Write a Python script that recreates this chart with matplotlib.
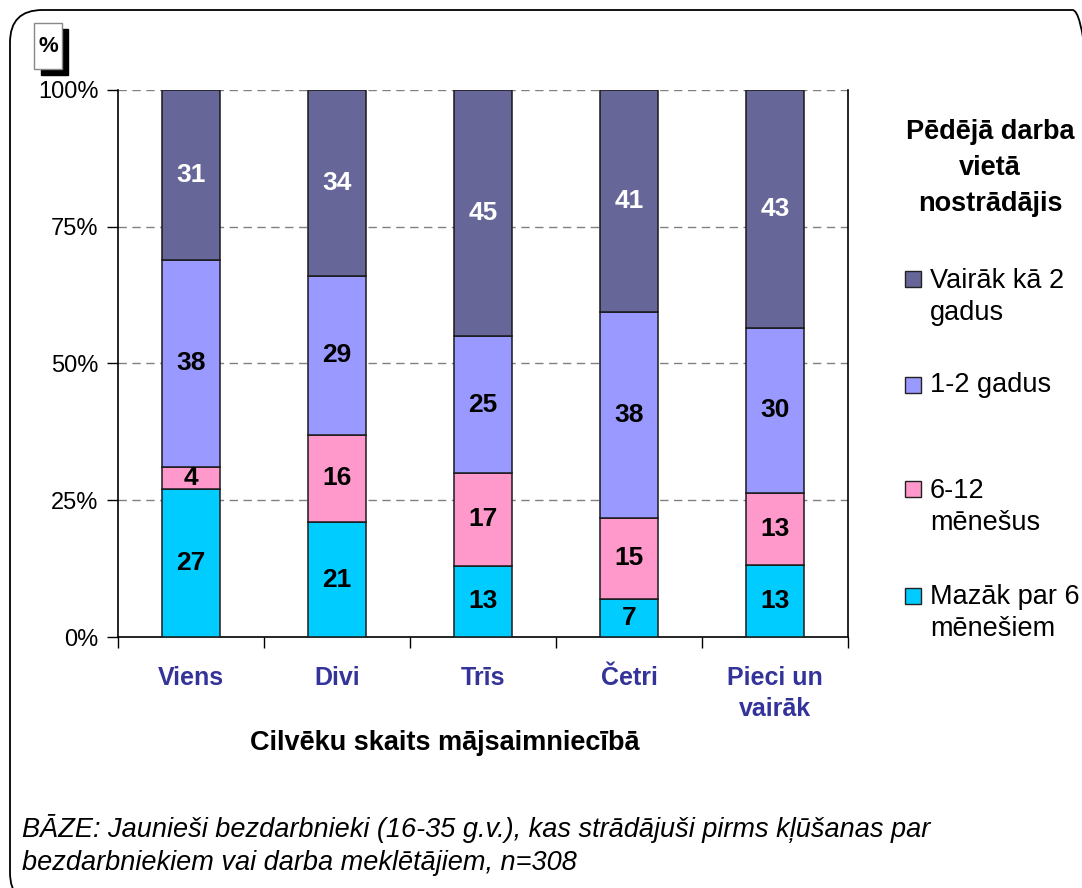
import matplotlib
matplotlib.use("Agg")
import matplotlib.pyplot as plt
import numpy as np
from matplotlib.patches import FancyBboxPatch, Rectangle

plt.rcParams['font.family'] = ['Liberation Sans', 'DejaVu Sans']

categories = ["Viens", "Divi", "Trīs", "Četri", "Pieci un\nvairāk"]
series_names = ["Mazāk par 6\nmēnešiem", "6-12\nmēnešus", "1-2 gadus", "Vairāk kā 2\ngadus"]
less_6m = [27, 21, 13, 7, 13]
m6_12 = [4, 16, 17, 15, 13]
y1_2 = [38, 29, 25, 38, 30]
more_2y = [31, 34, 45, 41, 43]
colors = ["#00CCFF", "#FF99CC", "#9999FF", "#666699"]
label_colors = ["black", "black", "black", "white"]
yticks = [0, 25, 50, 75, 100]
ytick_labels = ["0%", "25%", "50%", "75%", "100%"]
legend_title = "Pēdējā darba\nvietā\nnostrādājis"
xlabel = "Cilvēku skaits mājsaimniecībā"
footnote = ("BĀZE: Jaunieši bezdarbnieki (16-35 g.v.), kas strādājuši pirms kļūšanas par\n"
            "bezdarbniekiem vai darba meklētājiem, n=308")

W, H = 1082, 888
fig = plt.figure(figsize=(W / 100, H / 100), dpi=100)

def fx(px):
    return px / W

def fy(py):
    return 1 - py / H

# rounded frame
frame = FancyBboxPatch((fx(10), fy(905)), fx(1105) - fx(10), fy(10) - fy(905),
                       boxstyle="round,pad=0,rounding_size=0.03",
                       transform=fig.transFigure, facecolor="none",
                       edgecolor="black", linewidth=1.3, zorder=0,
                       mutation_aspect=W / H)
fig.patches.append(frame)

ax = fig.add_axes([fx(118), fy(637), fx(848) - fx(118), fy(90) - fy(637)])
ax.set_facecolor("none")

data = np.array([less_6m, m6_12, y1_2, more_2y], dtype=float)
totals = data.sum(axis=0)
pct = data / totals * 100
x = np.arange(len(categories))
bottom = np.zeros(len(categories))
for i in range(len(series_names)):
    ax.bar(x, pct[i], 0.4, bottom=bottom, color=colors[i], edgecolor="#1a1a1a",
           linewidth=1.1, zorder=3)
    for j in range(len(categories)):
        ax.text(x[j], bottom[j] + pct[i][j] / 2, f"{int(data[i][j])}",
                ha="center", va="center", fontsize=19, fontweight="bold",
                color=label_colors[i], zorder=4)
    bottom += pct[i]

ax.set_xlim(-0.5, len(categories) - 0.5)
ax.set_ylim(0, 100)
ax.set_yticks(yticks)
ax.set_yticklabels(ytick_labels, fontsize=17)
for yv in yticks[1:]:
    ax.axhline(yv, color="#808080", linestyle=(0, (6, 4)), linewidth=1.0, zorder=1)

ax.set_xticks(x)
ax.set_xticklabels(categories, fontsize=18, fontweight="bold", color="#333399",
                   linespacing=1.35)
ax.set_xticks(np.arange(-0.5, len(categories)), minor=True)
ax.tick_params(axis="x", which="major", length=0, pad=21)
ax.tick_params(axis="x", which="minor", length=8, direction="out", width=1)
ax.tick_params(axis="y", length=8, direction="out", width=1, pad=6)

ax.spines["top"].set_visible(False)
for s in ["left", "bottom", "right"]:
    ax.spines[s].set_linewidth(1.2)
    ax.spines[s].set_color("black")

fig.text(fx(445), fy(743), xlabel, ha="center", va="center", fontsize=19.5,
         fontweight="bold")

# % box with shadow
fig.patches.append(Rectangle((fx(41), fy(75)), fx(27), fy(29) - fy(75),
                             transform=fig.transFigure, facecolor="black",
                             edgecolor="black", zorder=1))
fig.patches.append(Rectangle((fx(34), fy(69)), fx(28), fy(23) - fy(69),
                             transform=fig.transFigure, facecolor="white",
                             edgecolor="#888888", linewidth=1, zorder=2))
fig.text(fx(48), fy(47), "%", ha="center", va="center", fontsize=16,
         fontweight="bold", zorder=3)

# legend
fig.text(fx(990), fy(168), legend_title, ha="center", va="center", fontsize=19.5,
         fontweight="bold", linespacing=1.5)
leg_y = [613, 507, 385, 297]
for i in range(len(series_names)):
    nlines = series_names[i].count("\n") + 1
    first_line_y = leg_y[i] - (nlines - 1) * 17.5
    fig.patches.append(Rectangle((fx(905), fy(first_line_y + 8)), fx(16), fy(first_line_y - 8) - fy(first_line_y + 8),
                                 transform=fig.transFigure, facecolor=colors[i],
                                 edgecolor="#222222", linewidth=1))
    fig.text(fx(930), fy(leg_y[i]), series_names[i], ha="left", va="center",
             fontsize=19.5, linespacing=1.28)

fig.text(fx(22), fy(845), footnote, ha="left", va="center", fontsize=19.5,
         style="italic", linespacing=1.35)

fig.savefig("out.png", dpi=100)
